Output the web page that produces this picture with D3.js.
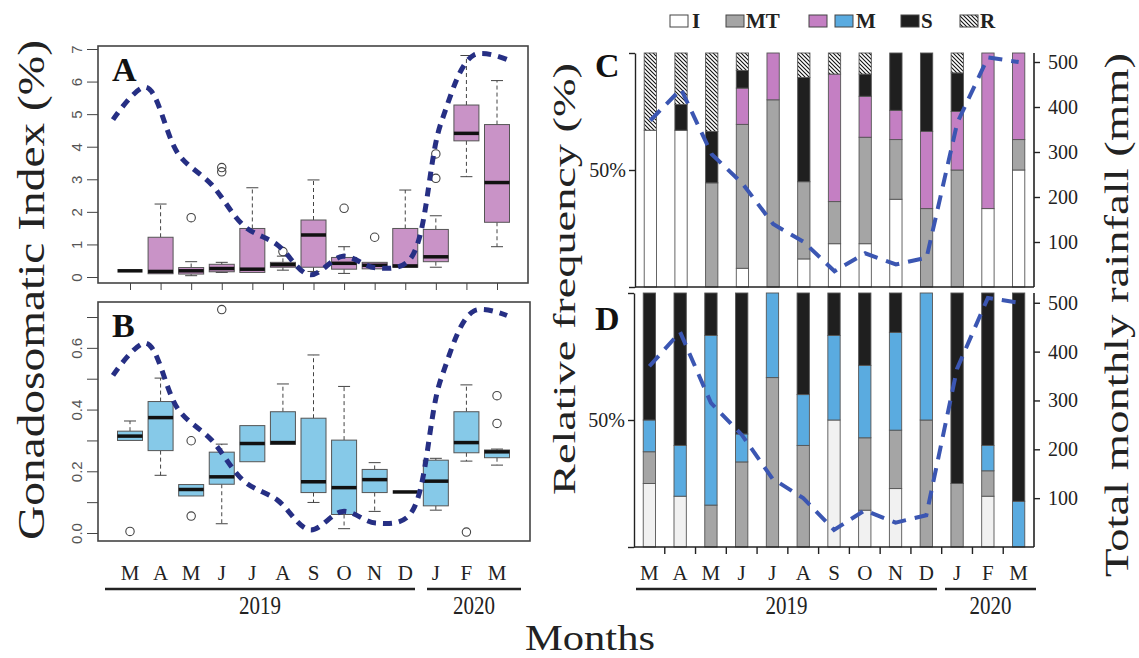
<!DOCTYPE html>
<html>
<head>
<meta charset="utf-8">
<script src="https://cdn.jsdelivr.net/npm/d3@7"></script>
<style>
body { margin: 0; background: #fff; }
svg { display: block; }
text { font-family: "Liberation Serif", "Times New Roman", serif; }
</style>
</head>
<body>
<div id="chart"></div>
<script>
// month axis
const monthKeys = ["2019-03", "2019-04", "2019-05", "2019-06", "2019-07", "2019-08", "2019-09",
    "2019-10", "2019-11", "2019-12", "2020-01", "2020-02", "2020-03"];
const monthLabels = ["M", "A", "M", "J", "J", "A", "S", "O", "N", "D", "J", "F", "M"];

// total monthly rainfall (mm)
const rainfall = [370, 440, 295, 230, 140, 100, 35, 75, 50, 65, 365, 510, 500];

// GSI boxplots: [min, q1, median, q3, max]
const gsiA = [
    [0.19, 0.19, 0.19, 0.19, 0.19], [0.1, 0.1, 0.17, 1.22, 2.24], [0.04, 0.09, 0.19, 0.29, 0.47],
    [0.14, 0.16, 0.26, 0.39, 0.45], [0.14, 0.14, 0.24, 1.49, 2.74], [0.21, 0.3, 0.38, 0.45, 0.64],
    [0.17, 0.3, 1.29, 1.75, 2.98], [0.11, 0.24, 0.42, 0.6, 0.93], [0.25, 0.25, 0.36, 0.45, 0.45],
    [0.3, 0.3, 0.34, 1.49, 2.67], [0.3, 0.47, 0.62, 1.46, 1.88], [3.08, 4.18, 4.41, 5.28, 6.8],
    [0.93, 1.68, 2.9, 4.68, 6.03]
];
const gsiAOut = [[], [], [1.82], [3.36, 3.23], [], [0.78], [], [2.11], [1.22], [], [3.78, 3.03], [], []];

const gsiB = [
    [0.3, 0.3, 0.314, 0.33, 0.363], [0.187, 0.267, 0.374, 0.426, 0.502], [0.12, 0.12, 0.141, 0.157, 0.157],
    [0.03, 0.158, 0.182, 0.262, 0.288], [0.231, 0.231, 0.29, 0.348, 0.348], [0.287, 0.287, 0.293, 0.393, 0.483],
    [0.099, 0.131, 0.166, 0.372, 0.577], [0.014, 0.06, 0.147, 0.301, 0.475], [0.07, 0.131, 0.173, 0.206, 0.228],
    [0.133, 0.133, 0.133, 0.133, 0.133], [0.074, 0.088, 0.168, 0.236, 0.242], [0.233, 0.26, 0.293, 0.393, 0.48],
    [0.22, 0.244, 0.263, 0.269, 0.272]
];
const gsiBOut = [[0.005], [], [0.299, 0.055], [0.724], [], [], [], [], [], [], [], [0.003], [0.445, 0.355]];

// relative frequency of maturity stages (%)
const stageKeys = ["I", "MT", "M", "S", "R"];
const stagesC = {
    I:  [67, 67, 0, 8, 0, 12, 18.5, 18.5, 37.5, 0, 0, 33.5, 50],
    MT: [0, 0, 44.5, 61.5, 80, 33, 18, 45.5, 25.5, 33.5, 50, 0, 13],
    M:  [0, 0, 0, 15.5, 20, 0, 54.5, 17.5, 12.5, 33, 25, 66.5, 37],
    S:  [0, 11, 22, 7.5, 0, 44.5, 0, 9.5, 24.5, 33.5, 16.5, 0, 0],
    R:  [33, 22, 33.5, 7.5, 0, 10.5, 9, 9, 0, 0, 8.5, 0, 0]
};
const stagesD = {
    I:  [25, 20, 0, 0, 0, 0, 50, 14.5, 23, 0, 0, 20, 0],
    MT: [12.5, 0, 16.5, 33.5, 66.7, 40, 0, 28.5, 23, 50, 25, 10, 0],
    M:  [12.5, 20, 66.8, 11, 33.3, 20, 33.3, 28.5, 38.5, 50, 0, 10, 18],
    S:  [50, 60, 16.7, 55.5, 0, 40, 16.7, 28.5, 15.5, 0, 75, 60, 82],
    R:  [0, 0, 0, 0, 0, 0, 0, 0, 0, 0, 0, 0, 0]
};

const pctTicks = [0, 50, 100];
const rainTicks = [100, 200, 300, 400, 500];

const svg = d3.select("#chart").append("svg")
    .attr("width", 1139)
    .attr("height", 658);

const defs = svg.append("defs");
const hatch = defs.append("pattern")
    .attr("id", "hatch")
    .attr("patternUnits", "userSpaceOnUse")
    .attr("width", 4).attr("height", 4);
hatch.append("rect").attr("width", 4).attr("height", 4).attr("fill", "#fff");
hatch.append("path")
    .attr("d", "M-1,-1 L5,5 M-1,3 L1,5 M3,-1 L5,1")
    .attr("stroke", "#111").attr("stroke-width", 1.1);

const serif = "'Liberation Serif', 'Times New Roman', serif";
const sans = "'Liberation Sans', Arial, sans-serif";

// ---------- left: boxplots ----------
const xBox = d3.scalePoint().domain(d3.range(13)).range([130, 497]);
const xRainLeft = d3.scalePoint().domain(d3.range(13)).range([113, 507]);

function drawBoxPanel(frame, y, rainY, stats, outliers, fill, label, tickVals, fmt) {
    const g = svg.append("g");

    g.append("rect")
        .attr("x", frame[0]).attr("y", frame[1])
        .attr("width", frame[2]).attr("height", frame[3])
        .attr("fill", "none").attr("stroke", "#444").attr("stroke-width", 1.6);

    const axis = g.append("g")
        .attr("transform", `translate(${frame[0]},0)`)
        .call(d3.axisLeft(y).tickValues(tickVals).tickSize(11).tickSizeOuter(0).tickFormat(fmt));
    axis.select(".domain").remove();
    axis.selectAll("line").attr("stroke", "#444");
    axis.selectAll("text")
        .attr("transform", "rotate(-90)")
        .attr("x", 0).attr("y", -16).attr("dy", 0)
        .attr("text-anchor", "middle")
        .attr("fill", "#555")
        .style("font-family", sans)
        .style("font-size", "15px");

    const bw = 25;
    stats.forEach((s, i) => {
        const cx = xBox(i);
        const [mn, q1, md, q3, mx] = s;
        if (mx > q3) {
            g.append("line").attr("x1", cx).attr("x2", cx).attr("y1", y(q3)).attr("y2", y(mx))
                .attr("stroke", "#444").attr("stroke-dasharray", "4,3");
            g.append("line").attr("x1", cx - 6).attr("x2", cx + 6).attr("y1", y(mx)).attr("y2", y(mx))
                .attr("stroke", "#444");
        }
        if (mn < q1) {
            g.append("line").attr("x1", cx).attr("x2", cx).attr("y1", y(q1)).attr("y2", y(mn))
                .attr("stroke", "#444").attr("stroke-dasharray", "4,3");
            g.append("line").attr("x1", cx - 6).attr("x2", cx + 6).attr("y1", y(mn)).attr("y2", y(mn))
                .attr("stroke", "#444");
        }
        g.append("rect")
            .attr("x", cx - bw / 2).attr("y", y(q3))
            .attr("width", bw).attr("height", Math.max(0, y(q1) - y(q3)))
            .attr("fill", fill).attr("stroke", "#555").attr("stroke-width", 1);
        g.append("line")
            .attr("x1", cx - bw / 2).attr("x2", cx + bw / 2)
            .attr("y1", y(md)).attr("y2", y(md))
            .attr("stroke", "#111").attr("stroke-width", 3.5);
        outliers[i].forEach(o => {
            g.append("circle").attr("cx", cx).attr("cy", y(o)).attr("r", 4.2)
                .attr("fill", "none").attr("stroke", "#444").attr("stroke-width", 1.1);
        });
    });

    g.append("path")
        .datum(rainfall)
        .attr("d", d3.line().x((d, i) => xRainLeft(i)).y(d => rainY(d)).curve(d3.curveCatmullRom))
        .attr("fill", "none")
        .attr("stroke", "#262f84")
        .attr("stroke-width", 5)
        .attr("stroke-dasharray", "9,7");

    g.append("text")
        .attr("x", frame[0] + 14).attr("y", frame[1] + 35)
        .attr("font-weight", "bold").attr("font-size", 34)
        .attr("fill", "#111")
        .text(label);
    return g;
}

const yA = d3.scaleLinear().domain([0, 7]).range([277, 49]);
const rainA = d3.scaleLinear().domain([0, 500]).range([291, 59.5]);
drawBoxPanel([98, 46, 430, 237], yA, rainA, gsiA, gsiAOut, "#c993c7", "A",
    d3.range(0, 8), d => d3.format("d")(d));

const yB = d3.scaleLinear().domain([0, 0.7]).range([533, 317]);
const rainB = d3.scaleLinear().domain([0, 500]).range([546, 315.5]);
drawBoxPanel([98, 302, 432, 239], yB, rainB, gsiB, gsiBOut, "#86c9e8", "B",
    d3.range(0, 8).map(d => d / 10), d => (Math.round(d * 10) % 2 === 0 ? d3.format(".1f")(d) : ""));

// ticks under A
const xTicksA = svg.append("g")
    .attr("transform", "translate(0,283)")
    .call(d3.axisBottom(xBox).tickSize(7).tickFormat(""));
xTicksA.select(".domain").remove();
xTicksA.selectAll("line").attr("stroke", "#444");

// ---------- right: stacked bars ----------
const stageFill = {
    C: { I: "#ffffff", MT: "#a5a5a5", M: "#c47fc3", S: "#1f1f1f", R: "url(#hatch)" },
    D: { I: "#f1f1f1", MT: "#a5a5a5", M: "#5aabe0", S: "#1f1f1f", R: "url(#hatch)" }
};

function drawBarPanel(x0, x1, top, bottom, stages, fills, label, labelY, showBottomTicks) {
    const g = svg.append("g");
    const x = d3.scaleBand().domain(d3.range(13)).range([x0, x1]).paddingInner(0.6).paddingOuter(0.3);
    const y = d3.scaleLinear().domain([0, 100]).range([bottom, top]);
    const rainY = d3.scaleLinear().domain([0, 500]).range([bottom, bottom - (bottom - top) * 500 / 520]);

    const rows = d3.range(13).map(i => {
        const r = { idx: i };
        stageKeys.forEach(k => r[k] = stages[k][i]);
        return r;
    });
    const series = d3.stack().keys(stageKeys)(rows);

    series.forEach(s => {
        g.selectAll(null).data(s.filter(d => d[1] - d[0] > 0)).join("rect")
            .attr("x", d => x(d.data.idx))
            .attr("y", d => y(d[1]))
            .attr("width", x.bandwidth())
            .attr("height", d => y(d[0]) - y(d[1]))
            .attr("fill", fills[s.key])
            .attr("stroke", "#555")
            .attr("stroke-width", 0.9);
    });

    // left bracket axis
    const la = g.append("g")
        .attr("transform", `translate(${x0},0)`)
        .call(d3.axisLeft(y).tickValues(pctTicks).tickSize(6).tickSizeOuter(0)
            .tickFormat(d => (d === 50 ? "50%" : "")));
    la.selectAll(".domain").attr("stroke", "#222").attr("stroke-width", 1.4);
    la.selectAll("line").attr("stroke", "#222").attr("stroke-width", 1.4);
    la.selectAll("text").style("font-family", serif).style("font-size", "20px").attr("fill", "#222");

    // bottom line
    g.append("line").attr("x1", x0).attr("x2", x1).attr("y1", bottom).attr("y2", bottom)
        .attr("stroke", "#222").attr("stroke-width", 1.6);
    if (showBottomTicks) {
        const step = x.step();
        d3.range(1, 13).forEach(i => {
            const bx = x(i) + x.bandwidth() / 2 - step / 2;
            g.append("line").attr("x1", bx).attr("x2", bx).attr("y1", bottom).attr("y2", bottom + 7)
                .attr("stroke", "#222").attr("stroke-width", 1.4);
        });
    }

    // right rainfall axis
    g.append("line").attr("x1", x1).attr("x2", x1).attr("y1", top).attr("y2", bottom)
        .attr("stroke", "#222").attr("stroke-width", 1.6);
    const ra = g.append("g")
        .attr("transform", `translate(${x1},0)`)
        .call(d3.axisRight(rainY).tickValues(rainTicks).tickSize(6).tickPadding(8));
    ra.select(".domain").remove();
    ra.selectAll("line").attr("stroke", "#222").attr("stroke-width", 1.4);
    ra.selectAll("text").style("font-family", serif).style("font-size", "20px").attr("fill", "#222");

    g.append("path")
        .datum(rainfall)
        .attr("d", d3.line().x((d, i) => x(i) + x.bandwidth() / 2).y(d => rainY(d)))
        .attr("fill", "none")
        .attr("stroke", "#3b56b2")
        .attr("stroke-width", 4)
        .attr("stroke-dasharray", "14,9");

    g.append("text")
        .attr("x", 595).attr("y", labelY)
        .attr("font-weight", "bold").attr("font-size", 34)
        .attr("fill", "#111")
        .text(label);
    return x;
}

const xC = drawBarPanel(635, 1034, 53, 287, stagesC, stageFill.C, "C", 77, false);
const xD = drawBarPanel(634, 1034, 293, 547, stagesD, stageFill.D, "D", 330, true);

// ---------- month labels + years ----------
function monthRow(xpos, lines) {
    monthLabels.forEach((m, i) => {
        svg.append("text")
            .attr("x", xpos(i)).attr("y", 580)
            .attr("text-anchor", "middle")
            .attr("font-size", 21).attr("fill", "#222")
            .text(m);
    });
    lines.forEach(l => {
        svg.append("line").attr("x1", l[0]).attr("x2", l[1]).attr("y1", 589).attr("y2", 589)
            .attr("stroke", "#222").attr("stroke-width", 2.6);
        svg.append("text")
            .attr("x", (l[0] + l[1]) / 2).attr("y", 614)
            .attr("text-anchor", "middle")
            .attr("font-size", 25).attr("fill", "#222")
            .attr("textLength", 42).attr("lengthAdjust", "spacingAndGlyphs")
            .text(l[2]);
    });
}
monthRow(i => xBox(i), [[105, 415, "2019"], [427, 521, "2020"]]);
monthRow(i => xD(i) + xD.bandwidth() / 2, [[636, 937, "2019"], [945, 1036, "2020"]]);

// ---------- axis titles ----------
svg.append("text")
    .attr("transform", "translate(590,650)")
    .attr("text-anchor", "middle")
    .attr("font-size", 36).attr("fill", "#222")
    .attr("textLength", 130).attr("lengthAdjust", "spacingAndGlyphs")
    .text("Months");

function vTitle(x, cy, len, size, txt) {
    svg.append("text")
        .attr("transform", `translate(${x},${cy}) rotate(-90)`)
        .attr("text-anchor", "middle")
        .attr("font-size", size).attr("fill", "#222")
        .attr("textLength", len).attr("lengthAdjust", "spacingAndGlyphs")
        .text(txt);
}
vTitle(44, 290, 500, 38, "Gonadosomatic Index (%)");
vTitle(575, 279, 432, 31, "Relative frequency (%)");
vTitle(1128, 315, 524, 33, "Total monthly rainfall (mm)");

// ---------- legend ----------
const legendItems = [
    { box: [670], fills: ["#ffffff"], text: "I", tx: 692 },
    { box: [726], fills: ["#a5a5a5"], text: "MT", tx: 746 },
    { box: [809, 835], fills: ["#c47fc3", "#5aabe0"], text: "M", tx: 856 },
    { box: [901], fills: ["#1f1f1f"], text: "S", tx: 921 },
    { box: [960], fills: ["url(#hatch)"], text: "R", tx: 980 }
];
const legend = svg.append("g");
legendItems.forEach(it => {
    it.box.forEach((bx, j) => {
        legend.append("rect").attr("x", bx).attr("y", 15).attr("width", 18).attr("height", 12)
            .attr("fill", it.fills[j]).attr("stroke", "#444").attr("stroke-width", 1);
    });
    legend.append("text").attr("x", it.tx).attr("y", 28)
        .attr("font-size", 21).attr("font-weight", "bold").attr("fill", "#222")
        .text(it.text);
});
</script>
</body>
</html>
